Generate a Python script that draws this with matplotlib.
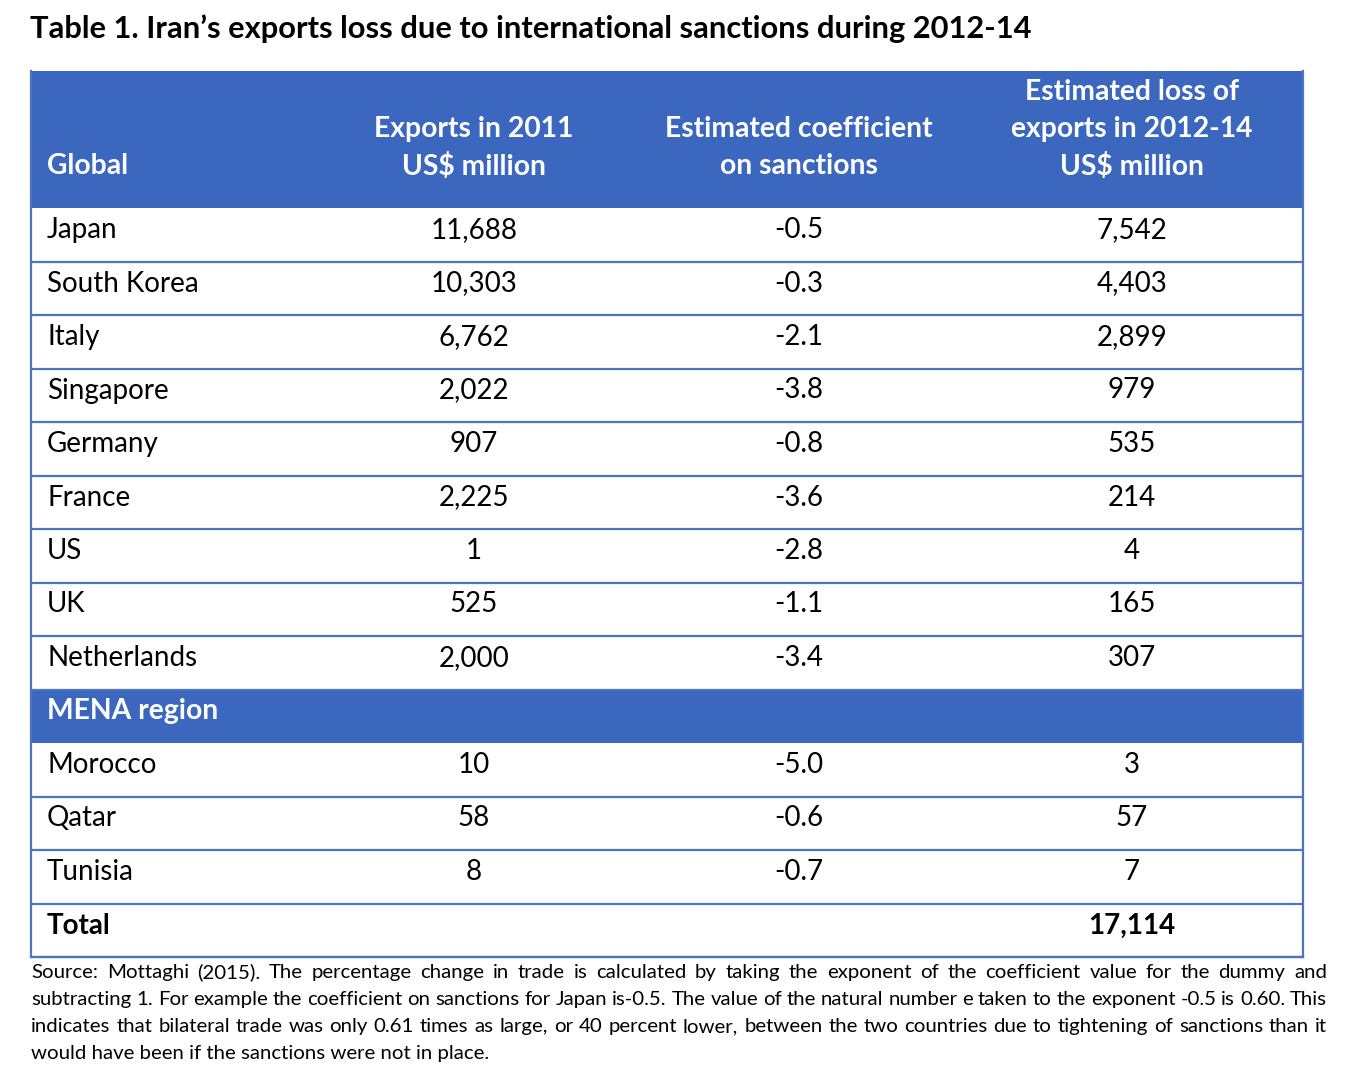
import matplotlib
matplotlib.use("Agg")
import matplotlib.pyplot as plt
from matplotlib.patches import Rectangle

plt.rcParams['font.family'] = ['Lato', 'DejaVu Sans']

title = "Table 1. Iran\u2019s exports loss due to international sanctions during 2012-14"
headers = [["Global"], ["Exports in 2011", "US$ million"],
           ["Estimated coefficient", "on sanctions"],
           ["Estimated loss of", "exports in 2012-14", "US$ million"]]
global_countries = ["Japan", "South Korea", "Italy", "Singapore", "Germany",
                    "France", "US", "UK", "Netherlands"]
global_exports = ["11,688", "10,303", "6,762", "2,022", "907", "2,225", "1", "525", "2,000"]
global_coef = ["-0.5", "-0.3", "-2.1", "-3.8", "-0.8", "-3.6", "-2.8", "-1.1", "-3.4"]
global_loss = ["7,542", "4,403", "2,899", "979", "535", "214", "4", "165", "307"]
mena_label = "MENA region"
mena_countries = ["Morocco", "Qatar", "Tunisia"]
mena_exports = ["10", "58", "8"]
mena_coef = ["-5.0", "-0.6", "-0.7"]
mena_loss = ["3", "57", "7"]
total_label = "Total"
total_loss = "17,114"
source = ("Source: Mottaghi (2015). The percentage change in trade is calculated by taking the exponent "
          "of the coefficient value for the dummy and\nsubtracting 1. For example the coefficient on "
          "sanctions for Japan is-0.5. The value of the natural number e taken to the exponent -0.5 "
          "is 0.60. This\nindicates that bilateral trade was only 0.61 times as large, or 40 percent "
          "lower, between the two countries due to tightening of sanctions than it\nwould have been "
          "if the sanctions were not in place.")

W, H = 1345, 1075
fig = plt.figure(figsize=(W / 100, H / 100), dpi=100)
ax = fig.add_axes([0, 0, 1, 1])
ax.set_xlim(0, W)
ax.set_ylim(H, 0)
ax.axis("off")

BLUE = "#3c67be"
LINE = "#4a74c4"
left, right = 31, 1303
col_x = [47, 474, 799, 1132]
body_fs = 20
hdr_fs = 20.3

ax.text(30, 29, title, fontsize=22.2, fontweight="bold", va="center", ha="left", color="black")

# header
hdr_top, hdr_bot = 71, 208
ax.add_patch(Rectangle((left, hdr_top), right - left, hdr_bot - hdr_top, color=BLUE, lw=0))
for i, lines in enumerate(headers):
    n = len(lines)
    for j, s in enumerate(lines):
        y = 166 - (n - 1 - j) * 37
        ax.text(col_x[i], y, s, color="white", fontsize=hdr_fs, fontweight="bold",
                ha="left" if i == 0 else "center", va="center")

row_h = 53.5
y0 = hdr_bot


def draw_row(top, cells, bold=False):
    for i, s in enumerate(cells):
        if not s:
            continue
        ax.text(col_x[i], top + 22, s, fontsize=body_fs, color="black",
                fontweight="bold" if bold else "normal",
                ha="left" if i == 0 else "center", va="center")
    ax.plot([left, right], [top + row_h, top + row_h], color=LINE, lw=1.6, solid_capstyle="butt")


top = y0
for r in zip(global_countries, global_exports, global_coef, global_loss):
    draw_row(top, r)
    top += row_h

# MENA band
ax.add_patch(Rectangle((left, top), right - left, row_h, color=BLUE, lw=0))
ax.text(col_x[0], top + 22, mena_label, color="white", fontsize=hdr_fs,
        fontweight="bold", ha="left", va="center")
top += row_h

for r in zip(mena_countries, mena_exports, mena_coef, mena_loss):
    draw_row(top, r)
    top += row_h

draw_row(top, [total_label, "", "", total_loss], bold=True)
top += row_h

# outer borders
ax.plot([left, left], [hdr_top, top], color=LINE, lw=1.6)
ax.plot([right, right], [hdr_top, top], color=LINE, lw=1.6)
ax.plot([left, right], [top, top], color=LINE, lw=1.6)

# justified source note
fig.canvas.draw()
renderer = fig.canvas.get_renderer()
src_fs = 14.7
src_left, src_right = 31, 1327


def word_width(w):
    t = ax.text(0, 0, w, fontsize=src_fs)
    bb = t.get_window_extent(renderer)
    t.remove()
    return bb.width


src_lines = source.split("\n")
for k, line in enumerate(src_lines):
    y = 978 + k * 27
    words = line.split(" ")
    if k == len(src_lines) - 1:
        ax.text(src_left, y, line, fontsize=src_fs, va="baseline", ha="left")
        continue
    widths = [word_width(w) for w in words]
    gap = (src_right - src_left - sum(widths)) / (len(words) - 1)
    x = src_left
    for w, ww in zip(words, widths):
        ax.text(x, y, w, fontsize=src_fs, va="baseline", ha="left")
        x += ww + gap

fig.savefig("out.png", dpi=100)
